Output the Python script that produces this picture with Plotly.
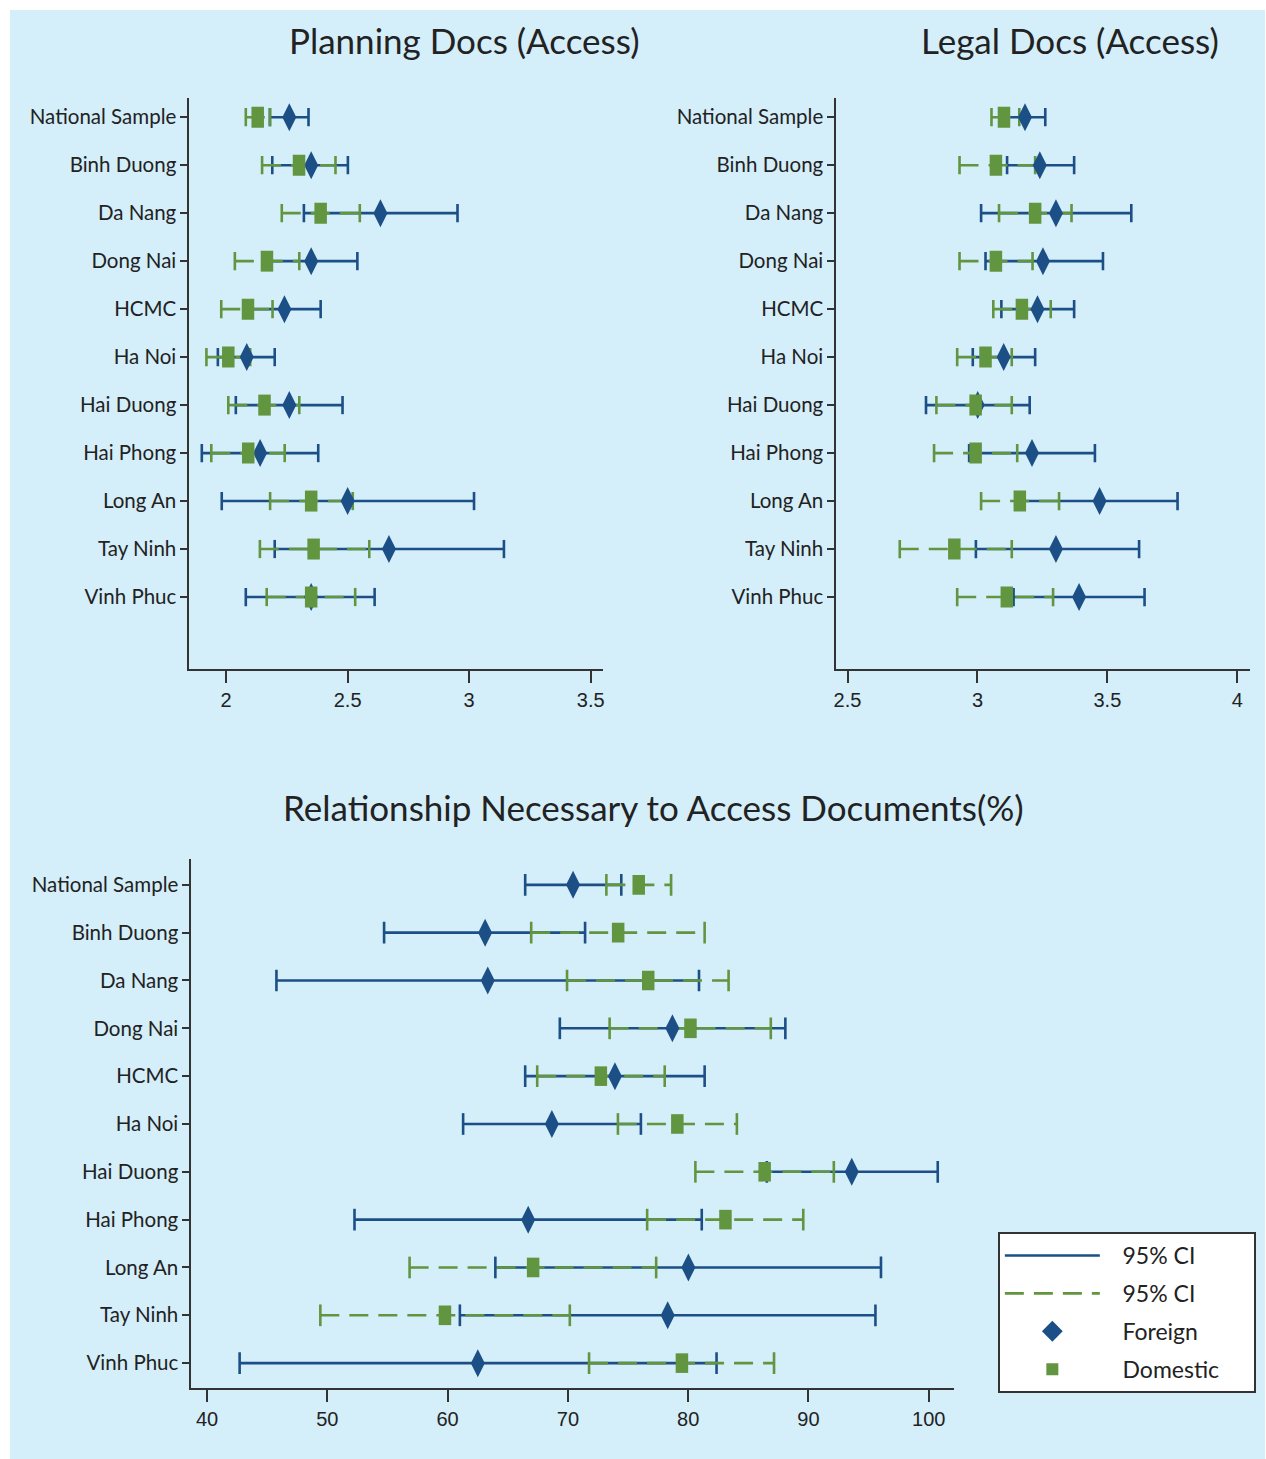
import plotly.graph_objects as go

# ---------------- data ----------------
cats = ["National Sample", "Binh Duong", "Da Nang", "Dong Nai", "HCMC", "Ha Noi",
        "Hai Duong", "Hai Phong", "Long An", "Tay Ninh", "Vinh Phuc"]

# Planning Docs (Access)
plan_for_mean = [2.26, 2.35, 2.635, 2.35, 2.24, 2.085, 2.26, 2.14, 2.50, 2.67, 2.35]
plan_for_lo = [2.18, 2.19, 2.32, 2.16, 2.09, 1.966, 2.04, 1.90, 1.982, 2.20, 2.081]
plan_for_hi = [2.339, 2.501, 2.952, 2.540, 2.389, 2.200, 2.479, 2.379, 3.020, 3.143, 2.611]
plan_dom_mean = [2.13, 2.30, 2.389, 2.168, 2.09, 2.009, 2.158, 2.091, 2.35, 2.36, 2.35]
plan_dom_lo = [2.081, 2.148, 2.229, 2.036, 1.980, 1.919, 2.009, 1.939, 2.181, 2.139, 2.167]
plan_dom_hi = [2.181, 2.450, 2.550, 2.301, 2.191, 2.099, 2.301, 2.241, 2.521, 2.589, 2.531]

# Legal Docs (Access)
legal_for_mean = [3.183, 3.240, 3.302, 3.252, 3.231, 3.101, 3.001, 3.210, 3.470, 3.302, 3.391]
legal_for_lo = [3.105, 3.114, 3.014, 3.031, 3.092, 2.982, 2.802, 2.968, 3.170, 2.994, 3.139]
legal_for_hi = [3.261, 3.372, 3.592, 3.483, 3.372, 3.222, 3.201, 3.452, 3.770, 3.622, 3.643]
legal_dom_mean = [3.102, 3.071, 3.222, 3.071, 3.171, 3.031, 2.993, 2.993, 3.163, 2.911, 3.113]
legal_dom_lo = [3.054, 2.931, 3.083, 2.931, 3.061, 2.922, 2.842, 2.833, 3.014, 2.701, 2.922]
legal_dom_hi = [3.161, 3.222, 3.362, 3.212, 3.282, 3.132, 3.132, 3.153, 3.314, 3.132, 3.291]

# Relationship Necessary to Access Documents (%)
rel_for_mean = [70.43, 63.12, 63.34, 78.69, 73.91, 68.67, 93.60, 66.70, 80.02, 78.30, 62.51]
rel_for_lo = [66.45, 54.72, 45.77, 69.33, 66.45, 61.29, 86.54, 52.26, 63.97, 61.02, 42.71]
rel_for_hi = [74.44, 71.43, 80.90, 88.08, 81.37, 76.07, 100.75, 81.13, 96.03, 95.57, 82.36]
rel_dom_mean = [75.89, 74.18, 76.68, 80.19, 72.74, 79.10, 86.36, 83.10, 67.11, 59.78, 79.48]
rel_dom_lo = [73.20, 66.95, 69.93, 73.47, 67.45, 74.16, 80.60, 76.59, 56.84, 49.42, 71.76]
rel_dom_hi = [78.58, 81.37, 83.36, 86.87, 78.05, 84.05, 92.11, 89.57, 77.34, 70.16, 87.14]

plan_ticks = [2, 2.5, 3, 3.5]
legal_ticks = [2.5, 3, 3.5, 4]
rel_ticks = [40, 50, 60, 70, 80, 90, 100]

titles = ["Planning Docs (Access)", "Legal Docs (Access)",
          "Relationship Necessary to Access Documents(%)"]
legend_names = ["95% CI", "95% CI", "Foreign", "Domestic"]

# ---------------- style ----------------
W, H = 1266, 1459
BLUE = "#1b4f86"
GREEN = "#62953f"
BG = "#d4eefa"
AX = "#333333"
LABEL_FONT = "Lato"
NUM_FONT = "Liberation Sans"
NB = "\u00a0"

fig = go.Figure()


def px_x(p):
    return p / W


def px_y(p):
    return 1 - p / H


def add_panel(xa, ya, f_m, f_lo, f_hi, d_m, d_lo, d_hi, cap, sq, dia):
    yv = list(range(len(cats)))
    # blue CI lines
    bx, by = [], []
    for lo, hi, y in zip(f_lo, f_hi, yv):
        bx += [lo, hi, None]
        by += [y, y, None]
    fig.add_trace(go.Scatter(x=bx, y=by, mode="lines", xaxis=xa, yaxis=ya,
                             line=dict(color=BLUE, width=2.6), showlegend=False,
                             hoverinfo="skip"))
    fig.add_trace(go.Scatter(x=f_lo + f_hi, y=yv + yv, mode="markers", xaxis=xa, yaxis=ya,
                             marker=dict(symbol="line-ns", size=cap, color=BLUE,
                                         line=dict(color=BLUE, width=2.6)),
                             showlegend=False, hoverinfo="skip"))
    # green CI lines (dashed)
    gx, gy = [], []
    for lo, hi, y in zip(d_lo, d_hi, yv):
        gx += [lo, hi, None]
        gy += [y, y, None]
    fig.add_trace(go.Scatter(x=gx, y=gy, mode="lines", xaxis=xa, yaxis=ya,
                             line=dict(color=GREEN, width=2.6, dash="19px,10px"),
                             showlegend=False, hoverinfo="skip"))
    fig.add_trace(go.Scatter(x=d_lo + d_hi, y=yv + yv, mode="markers", xaxis=xa, yaxis=ya,
                             marker=dict(symbol="line-ns", size=cap, color=GREEN,
                                         line=dict(color=GREEN, width=2.6)),
                             showlegend=False, hoverinfo="skip"))
    # foreign diamonds
    fig.add_trace(go.Scatter(x=f_m, y=yv, mode="markers", xaxis=xa, yaxis=ya,
                             marker=dict(symbol="diamond-tall", size=dia, color=BLUE,
                                         line=dict(width=0)),
                             showlegend=False, name="Foreign"))
    # domestic (tall rectangles)
    fig.add_trace(go.Scatter(x=d_m, y=yv, mode="markers", xaxis=xa, yaxis=ya,
                             marker=dict(symbol="line-ns", size=sq, color=GREEN,
                                         line=dict(color=GREEN, width=12.5)),
                             showlegend=False, name="Domestic"))


add_panel("x", "y", plan_for_mean, plan_for_lo, plan_for_hi,
          plan_dom_mean, plan_dom_lo, plan_dom_hi, cap=13, sq=15, dia=20)
add_panel("x2", "y2", legal_for_mean, legal_for_lo, legal_for_hi,
          legal_dom_mean, legal_dom_lo, legal_dom_hi, cap=13, sq=15, dia=20)
add_panel("x3", "y3", rel_for_mean, rel_for_lo, rel_for_hi,
          rel_dom_mean, rel_dom_lo, rel_dom_hi, cap=15.5, sq=14, dia=20)

# legend entries (no data)
pad = NB * 3
fig.add_trace(go.Scatter(x=[None], y=[None], mode="lines", xaxis="x3", yaxis="y3",
                         name=pad + legend_names[0], legendgroup="a",
                         line=dict(color=BLUE, width=2.6)))
fig.add_trace(go.Scatter(x=[None], y=[None], mode="lines", xaxis="x3", yaxis="y3",
                         name=pad + legend_names[1], legendgroup="b",
                         line=dict(color=GREEN, width=2.6, dash="19px,10px")))
fig.add_trace(go.Scatter(x=[None], y=[None], mode="markers", xaxis="x3", yaxis="y3",
                         name=pad + legend_names[2], legendgroup="c",
                         marker=dict(symbol="diamond", size=16, color=BLUE)))
fig.add_trace(go.Scatter(x=[None], y=[None], mode="markers", xaxis="x3", yaxis="y3",
                         name=pad + legend_names[3] + NB * 5, legendgroup="d",
                         marker=dict(symbol="square", size=12, color=GREEN)))


def xaxis(dom, rng, ticks, anchor):
    return dict(domain=dom, range=rng, tickvals=ticks,
                ticktext=[("%g" % t) for t in ticks], anchor=anchor,
                showgrid=False, zeroline=False, showline=True, linecolor=AX,
                linewidth=2, ticks="outside", ticklen=12, tickwidth=2, tickcolor=AX,
                tickfont=dict(family=NUM_FONT, size=20, color="#222"), fixedrange=True)


def yaxis(dom, rng, anchor):
    return dict(domain=dom, range=rng, tickvals=list(range(len(cats))), ticktext=cats,
                anchor=anchor, showgrid=True, gridcolor=BG, gridwidth=3,
                zeroline=False, showline=True, linecolor=AX, linewidth=2,
                ticks="outside", ticklen=7, tickwidth=1.5, tickcolor=AX,
                tickfont=dict(family=LABEL_FONT, size=20.5, color="#222"), fixedrange=True)


top_y = [px_y(669), px_y(98)]
bot_y = [px_y(1388), px_y(859)]

title_font = dict(family=LABEL_FONT, size=35, color="#222")

fig.update_layout(
    width=W, height=H,
    margin=dict(l=0, r=0, t=0, b=0),
    paper_bgcolor="white",
    plot_bgcolor="white",
    xaxis=xaxis([px_x(187), px_x(602)], [1.849, 3.551], plan_ticks, "y"),
    yaxis=yaxis(top_y, [11.5, -0.4], "x"),
    xaxis2=xaxis([px_x(836), px_x(1251)], [2.457, 4.049], legal_ticks, "y2"),
    yaxis2=yaxis(top_y, [11.5, -0.4], "x2"),
    xaxis3=xaxis([px_x(189), px_x(954)], [38.7, 102.1], rel_ticks, "y3"),
    yaxis3=yaxis(bot_y, [10.52, -0.54], "x3"),
    showlegend=True,
    legend=dict(x=px_x(998), y=px_y(1232), xanchor="left", yanchor="top",
                bgcolor="white", bordercolor=AX, borderwidth=2,
                font=dict(family=LABEL_FONT, size=23, color="#222"),
                itemwidth=95, traceorder="grouped", tracegroupgap=5),
    shapes=[dict(type="rect", xref="paper", yref="paper", x0=px_x(7), x1=1,
                 y0=0, y1=px_y(10), fillcolor=BG, line=dict(width=0), layer="below")],
    annotations=[
        dict(text=titles[0], x=px_x(463), y=px_y(40), xref="paper", yref="paper",
             xanchor="center", yanchor="middle", showarrow=False, font=title_font),
        dict(text=titles[1], x=px_x(1070), y=px_y(40), xref="paper", yref="paper",
             xanchor="center", yanchor="middle", showarrow=False, font=title_font),
        dict(text=titles[2], x=px_x(653), y=px_y(807), xref="paper", yref="paper",
             xanchor="center", yanchor="middle", showarrow=False, font=title_font),
    ],
)

fig.write_html("out.html", config={"displayModeBar": False},
               post_script="document.body.style.margin='0';"
                           "document.body.style.overflow='hidden';")
